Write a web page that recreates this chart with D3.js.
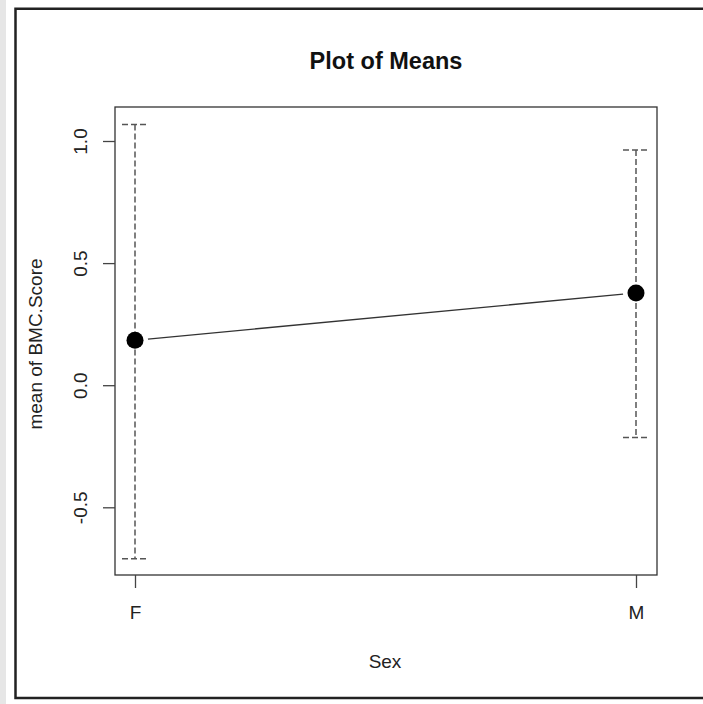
<!DOCTYPE html>
<html>
<head>
<meta charset="utf-8">
<script src="https://cdn.jsdelivr.net/npm/d3@7"></script>
<style>
  html, body { margin: 0; padding: 0; background: #fff; }
  svg { display: block; font-family: "Liberation Sans", Arial, sans-serif; }
</style>
</head>
<body>
<svg id="chart" width="703" height="704"></svg>
<script>
const categories = ["F", "M"];
const means = [0.184, 0.378];
const upper = [1.068, 0.963];
const lower = [-0.711, -0.214];
const yTicks = [-0.5, 0.0, 0.5, 1.0];
const titleText = "Plot of Means";
const xLabel = "Sex";
const yLabel = "mean of BMC.Score";

const svg = d3.select("#chart");
const W = 703, H = 704;
const box = { left: 115, right: 657, top: 107, bottom: 575 };

// gray strip and outer frame (right edge lies outside the view)
svg.append("rect").attr("x", 0).attr("y", 0).attr("width", 6).attr("height", H).attr("fill", "#e6e6e6");
svg.append("path")
  .attr("d", `M${W + 5},8.7 H15.5 V698 H${W + 5}`)
  .attr("fill", "none").attr("stroke", "#222").attr("stroke-width", 2.5);

const x = d3.scalePoint().domain(categories).range([135, 636]);
const y = d3.scaleLinear().domain([-0.5, 1.0]).range([507.3, 141]);

// plot box
svg.append("rect").attr("x", box.left).attr("y", box.top)
  .attr("width", box.right - box.left).attr("height", box.bottom - box.top)
  .attr("fill", "none").attr("stroke", "#333").attr("stroke-width", 1.3);

const fmt = d => d3.format(".1f")(d).replace("\u2212", "-");

// y axis
const yAxis = svg.append("g").attr("transform", `translate(${box.left},0)`)
  .call(d3.axisLeft(y).tickValues(yTicks).tickFormat(fmt).tickSize(12));
yAxis.select(".domain").remove();
yAxis.selectAll(".tick line").attr("stroke", "#444").attr("stroke-width", 1.3);
yAxis.selectAll(".tick text")
  .attr("x", null).attr("dy", null)
  .attr("transform", "translate(-28,0) rotate(-90)")
  .attr("text-anchor", "middle")
  .attr("font-size", 19).attr("fill", "#222")
  .attr("font-family", "Liberation Sans, Arial, sans-serif");

// x axis
const xAxis = svg.append("g").attr("transform", `translate(0,${box.bottom})`)
  .call(d3.axisBottom(x).tickSize(13));
xAxis.select(".domain").remove();
xAxis.selectAll(".tick line").attr("stroke", "#444").attr("stroke-width", 1.3);
xAxis.selectAll(".tick text")
  .attr("y", 44).attr("dy", null)
  .attr("font-size", 19).attr("fill", "#222")
  .attr("font-family", "Liberation Sans, Arial, sans-serif");

// error bars
const data = categories.map((c, i) => ({ c, m: means[i], u: upper[i], l: lower[i] }));
const eb = svg.append("g").attr("stroke", "#555").attr("stroke-width", 1.5)
  .attr("stroke-dasharray", "6,3").attr("fill", "none");
data.forEach(d => {
  eb.append("line").attr("x1", x(d.c)).attr("x2", x(d.c)).attr("y1", y(d.u)).attr("y2", y(d.l));
  eb.append("line").attr("x1", x(d.c) - 13).attr("x2", x(d.c) + 13).attr("y1", y(d.u)).attr("y2", y(d.u));
  eb.append("line").attr("x1", x(d.c) - 13).attr("x2", x(d.c) + 13).attr("y1", y(d.l)).attr("y2", y(d.l));
});

// connecting line with gaps around points
for (let i = 0; i < data.length - 1; i++) {
  const x1 = x(data[i].c), y1 = y(data[i].m), x2 = x(data[i + 1].c), y2 = y(data[i + 1].m);
  const len = Math.hypot(x2 - x1, y2 - y1), gap = 13;
  const ux = (x2 - x1) / len, uy = (y2 - y1) / len;
  svg.append("line")
    .attr("x1", x1 + ux * gap).attr("y1", y1 + uy * gap)
    .attr("x2", x2 - ux * gap).attr("y2", y2 - uy * gap)
    .attr("stroke", "#333").attr("stroke-width", 1.3);
}

// points
svg.append("g").selectAll("circle").data(data).join("circle")
  .attr("cx", d => x(d.c)).attr("cy", d => y(d.m)).attr("r", 8.5).attr("fill", "#000");

// titles
svg.append("text").attr("x", 386).attr("y", 68.5).attr("text-anchor", "middle")
  .attr("font-size", 23.5).attr("font-weight", "bold").attr("fill", "#111").text(titleText);
svg.append("text").attr("x", 385).attr("y", 668).attr("text-anchor", "middle")
  .attr("font-size", 19).attr("fill", "#222").text(xLabel);
svg.append("text").attr("transform", "translate(42,344) rotate(-90)").attr("text-anchor", "middle")
  .attr("font-size", 19).attr("fill", "#222").text(yLabel);
</script>
</body>
</html>
